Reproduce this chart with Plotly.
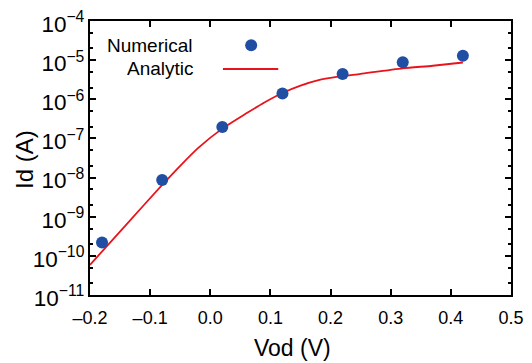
import plotly.graph_objects as go

# Numerical (simulation) points
num_x = [-0.18, -0.08, 0.02, 0.12, 0.22, 0.32, 0.42]
num_y = [2.2e-10, 8.7e-9, 1.95e-7, 1.4e-6, 4.4e-6, 8.8e-6, 1.3e-5]

# Analytic curve
ana_x = [-0.2, -0.14, -0.08, -0.05, -0.02, 0.02, 0.06, 0.09, 0.12, 0.15,
         0.18, 0.21, 0.25, 0.32, 0.37, 0.42]
ana_y = [5.9e-11, 6.2e-10, 6.5e-9, 2.0e-8, 5.75e-8, 1.78e-7, 4.37e-7, 8.3e-7,
         1.45e-6, 2.24e-6, 3.09e-6, 3.72e-6, 4.47e-6, 6.2e-6, 7.2e-6, 8.7e-6]

x_ticks = [-0.2, -0.1, 0.0, 0.1, 0.2, 0.3, 0.4, 0.5]
x_tick_text = ["\u20130.2", "\u20130.1", "0.0", "0.1", "0.2", "0.3", "0.4", "0.5"]

legend_labels = ["Numerical", "Analytic"]
x_title = "Vod (V)"
y_title = "Id (A)"

FONT = "Liberation Sans, Arial, sans-serif"
RED = "#e8141c"
BLUE = "#1f4ea3"

fig = go.Figure()
fig.add_trace(go.Scatter(x=ana_x, y=ana_y, mode="lines", name="Analytic",
                         line=dict(color=RED, width=1.8, shape="spline", smoothing=0.6),
                         showlegend=False))
fig.add_trace(go.Scatter(x=num_x, y=num_y, mode="markers", name="Numerical",
                         marker=dict(color=BLUE, size=12),
                         showlegend=False))

# Legend drawn manually
fig.add_trace(go.Scatter(x=[0.068], y=[2.4e-5], mode="markers",
                         marker=dict(color=BLUE, size=12),
                         showlegend=False, hoverinfo="skip"))
fig.add_trace(go.Scatter(x=[0.021, 0.113], y=[5.94e-6, 5.94e-6], mode="lines",
                         line=dict(color=RED, width=1.8),
                         showlegend=False, hoverinfo="skip"))
fig.add_annotation(x=-0.026, y=-4.62, xref="x", yref="y", text=legend_labels[0],
                   showarrow=False, xanchor="right",
                   font=dict(family=FONT, size=19, color="black"))
fig.add_annotation(x=-0.023, y=-5.21, xref="x", yref="y", text=legend_labels[1],
                   showarrow=False, xanchor="right",
                   font=dict(family=FONT, size=19, color="black"))

# axis titles as annotations for exact placement
fig.add_annotation(x=0.481, y=0, xref="paper", yref="paper", text=x_title,
                   showarrow=False, xanchor="center", yanchor="middle", yshift=-53,
                   font=dict(family=FONT, size=23, color="black"))
fig.add_annotation(x=0, y=0.493, xref="paper", yref="paper", text=y_title,
                   showarrow=False, xanchor="center", yanchor="middle", xshift=-65,
                   textangle=-90,
                   font=dict(family=FONT, size=24, color="black"))

# page body has an 8px default margin, so the figure is made 8px smaller
fig.update_layout(
    width=524, height=355,
    margin=dict(l=82, r=21, t=13, b=68),
    paper_bgcolor="white", plot_bgcolor="white",
    font=dict(family=FONT, size=18, color="black"),
    showlegend=False,
)
fig.update_xaxes(
    range=[-0.2, 0.5], tickvals=x_ticks, ticktext=x_tick_text,
    ticks="inside", ticklen=6, tickwidth=1.5, tickcolor="black",
    showline=True, linecolor="black", linewidth=2, mirror="ticks",
    showgrid=False, zeroline=False, automargin=False,
    ticklabeloverflow="allow", ticklabelstandoff=5,
    tickfont=dict(size=18),
)
fig.update_yaxes(
    type="log", range=[-11, -4], dtick=1, exponentformat="power",
    ticks="inside", ticklen=6, tickwidth=1.5, tickcolor="black",
    showline=True, linecolor="black", linewidth=2, mirror="ticks",
    showgrid=False, zeroline=False, automargin=False,
    ticklabeloverflow="allow", ticklabelshift=3,
    minor=dict(ticks="inside", ticklen=3, tickcolor="black", dtick="D2",
               showgrid=False),
    tickfont=dict(size=18),
)

fig.write_html("out.html")
